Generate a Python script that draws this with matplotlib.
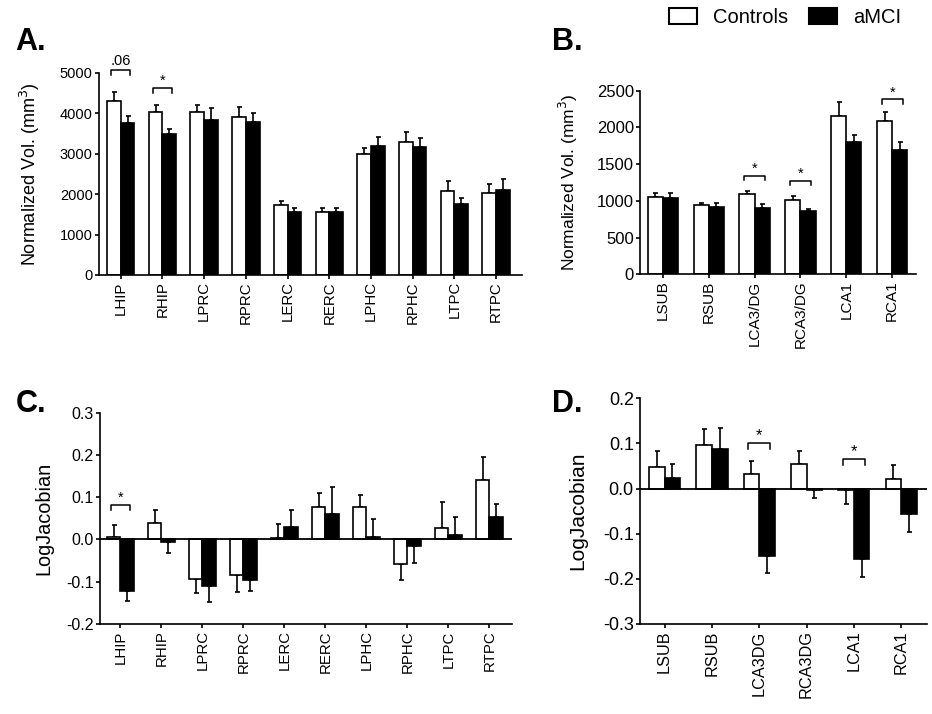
import numpy as np
import matplotlib
matplotlib.use('Agg')
import matplotlib.pyplot as plt
from matplotlib.patches import Patch

plt.rcParams['font.family'] = ['Liberation Sans', 'DejaVu Sans']
plt.rcParams['axes.unicode_minus'] = False

# panel A: whole-region volumes
a_labels = ['LHIP', 'RHIP', 'LPRC', 'RPRC', 'LERC', 'RERC', 'LPHC', 'RPHC', 'LTPC', 'RTPC']
a_ctrl = [4300, 4030, 4030, 3910, 1727, 1554, 2992, 3289, 2070, 2030]
a_ctrl_err = [220, 185, 175, 240, 108, 100, 157, 240, 264, 215]
a_amci = [3750, 3480, 3825, 3785, 1562, 1562, 3198, 3165, 1752, 2111]
a_amci_err = [175, 140, 305, 215, 108, 108, 207, 223, 165, 265]

# panel B: subfield volumes
b_labels = ['LSUB', 'RSUB', 'LCA3/DG', 'RCA3/DG', 'LCA1', 'RCA1']
b_ctrl = [1048, 944, 1093, 1012, 2150, 2087]
b_ctrl_err = [55, 31, 46, 59, 200, 123]
b_amci = [1044, 921, 907, 858, 1806, 1697]
b_amci_err = [68, 45, 46, 36, 95, 100]

# panel C: log jacobian, regions
c_labels = a_labels
c_ctrl = [0.006, 0.039, -0.093, -0.085, 0.003, 0.076, 0.076, -0.058, 0.028, 0.141]
c_ctrl_err = [0.029, 0.030, 0.033, 0.040, 0.033, 0.034, 0.029, 0.039, 0.060, 0.054]
c_amci = [-0.123, -0.006, -0.109, -0.097, 0.030, 0.061, 0.0055, -0.015, 0.010, 0.054]
c_amci_err = [0.022, 0.025, 0.039, 0.024, 0.040, 0.064, 0.042, 0.040, 0.043, 0.031]

# panel D: log jacobian, subfields
d_labels = ['LSUB', 'RSUB', 'LCA3DG', 'RCA3DG', 'LCA1', 'RCA1']
d_ctrl = [0.047, 0.097, 0.032, 0.055, -0.004, 0.021]
d_ctrl_err = [0.036, 0.034, 0.030, 0.028, 0.031, 0.031]
d_amci = [0.023, 0.087, -0.149, -0.004, -0.157, -0.057]
d_amci_err = [0.032, 0.047, 0.038, 0.017, 0.039, 0.040]

W, H = 932, 714
fig = plt.figure(figsize=(W / 100, H / 100), dpi=100)


def px_axes(l, t, r, b):
    return fig.add_axes([l / W, (H - b) / H, (r - l) / W, (b - t) / H])


def one_sided(vals, errs):
    vals = np.asarray(vals)
    errs = np.asarray(errs)
    lo = np.where(vals < 0, errs, 0)
    hi = np.where(vals >= 0, errs, 0)
    return [lo, hi]


def panel(ax, labels, ctrl, cerr, amci, aerr, xlim, ylim, yticks, fmt,
          ylabel, ylabel_fs, lpad, tick_fs, lab_fs, zero=False):
    x = np.arange(len(labels))
    w = 0.33
    ax.bar(x - w / 2, ctrl, w, color='white', edgecolor='black', linewidth=1.2, zorder=2)
    ax.bar(x + w / 2, amci, w, color='black', edgecolor='black', linewidth=1.2, zorder=2)
    ax.errorbar(x - w / 2, ctrl, yerr=one_sided(ctrl, cerr), fmt='none', ecolor='black',
                elinewidth=1.2, capsize=1.8, capthick=1.2, zorder=1)
    ax.errorbar(x + w / 2, amci, yerr=one_sided(amci, aerr), fmt='none', ecolor='black',
                elinewidth=1.2, capsize=1.8, capthick=1.2, zorder=1)
    if zero:
        ax.axhline(0, color='black', linewidth=1.3, zorder=3)
    ax.set_xlim(*xlim)
    ax.set_ylim(*ylim)
    ax.set_yticks(yticks)
    ax.set_yticklabels([fmt % v for v in yticks], fontsize=tick_fs)
    ax.set_xticks(x)
    ax.set_xticklabels(labels, rotation=90, fontsize=lab_fs)
    ax.set_ylabel(ylabel, fontsize=ylabel_fs, labelpad=lpad)
    for s in ['top', 'right']:
        ax.spines[s].set_visible(False)
    for s in ['left', 'bottom']:
        ax.spines[s].set_linewidth(1.2)
    ax.tick_params(width=1.2, length=3, direction='out', pad=1.5)


def bracket(ax, xc, ytop, depth, text, tdy, fs=10.5):
    x0, x1 = xc - 0.23, xc + 0.23
    ax.plot([x0, x0, x1, x1], [ytop - depth, ytop, ytop, ytop - depth],
            color='black', linewidth=1.1, clip_on=False, zorder=4)
    ax.text(xc, ytop + tdy, text, ha='center', va='bottom', fontsize=fs)


axA = px_axes(99, 73, 522, 275)
axB = px_axes(640, 90.7, 916, 274.3)
axC = px_axes(100, 412.7, 512, 624)
axD = px_axes(640, 398.3, 926.7, 624)

panel(axA, a_labels, a_ctrl, a_ctrl_err, a_amci, a_amci_err, (-0.52, 9.62), (0, 5000),
      [0, 1000, 2000, 3000, 4000, 5000], '%d', 'Normalized Vol. (mm$^3$)', 13, 13,
      10.5, 10.8)
panel(axB, b_labels, b_ctrl, b_ctrl_err, b_amci, b_amci_err, (-0.5, 5.52), (0, 2500),
      [0, 500, 1000, 1500, 2000, 2500], '%d', 'Normalized Vol. (mm$^3$)', 12.5, 12,
      12, 11)
panel(axC, c_labels, c_ctrl, c_ctrl_err, c_amci, c_amci_err, (-0.5, 9.55), (-0.2, 0.3),
      [-0.2, -0.1, 0.0, 0.1, 0.2, 0.3], '%.1f', 'LogJacobian', 14.3, 9.5,
      11.5, 10.8, zero=True)
panel(axD, d_labels, d_ctrl, d_ctrl_err, d_amci, d_amci_err, (-0.52, 5.54), (-0.3, 0.2),
      [-0.3, -0.2, -0.1, 0.0, 0.1, 0.2], '%.1f', 'LogJacobian', 15, 11,
      13, 11.7, zero=True)

bracket(axA, 0, 5080, 120, '.06', 40)
bracket(axA, 1, 4630, 120, '*', 0)
bracket(axB, 2, 1343, 60, '*', 0)
bracket(axB, 3, 1270, 60, '*', 0)
bracket(axB, 5, 2383, 64, '*', 0)
bracket(axC, 0, 0.081, 0.012, '*', 0.0)
bracket(axD, 2, 0.101, 0.013, '*', 0.0, fs=12)
bracket(axD, 4, 0.066, 0.013, '*', 0.0, fs=12)

fig.text(15 / W, 1 - 50 / H, 'A.', fontsize=22, fontweight='bold', ha='left', va='baseline')
fig.text(552 / W, 1 - 50 / H, 'B.', fontsize=22, fontweight='bold', ha='left', va='baseline')
fig.text(16 / W, 1 - 412 / H, 'C.', fontsize=22, fontweight='bold', ha='left', va='baseline')
fig.text(552 / W, 1 - 412 / H, 'D.', fontsize=22, fontweight='bold', ha='left', va='baseline')

handles = [Patch(facecolor='white', edgecolor='black', linewidth=1.5, label='Controls'),
           Patch(facecolor='black', edgecolor='black', linewidth=1.5, label='aMCI')]
fig.legend(handles=handles, loc='upper left', bbox_to_anchor=(669 / W, 1 - 8 / H), ncol=2,
           frameon=False, fontsize=14.5, handlelength=1.4, handleheight=0.85,
           handletextpad=0.8, columnspacing=1.0, borderpad=0, borderaxespad=0)

fig.savefig('out.png', dpi=100)
